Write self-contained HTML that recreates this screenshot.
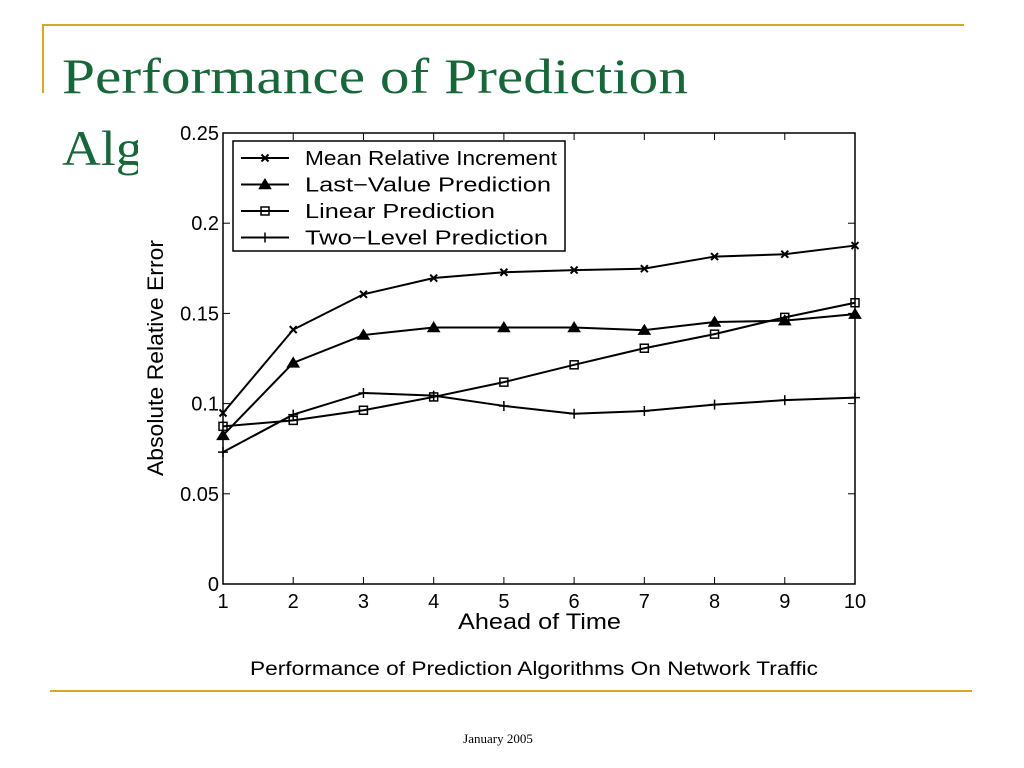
<!DOCTYPE html>
<html><head><meta charset="utf-8"><style>
body{margin:0;background:#fff;}
svg{display:block;}
</style></head><body>
<svg width="1024" height="768" xmlns="http://www.w3.org/2000/svg">
<line x1="42" y1="25" x2="964" y2="25" stroke="#d4a82a" stroke-width="2"/>
<line x1="43" y1="25" x2="43" y2="93" stroke="#d4a82a" stroke-width="2"/>
<line x1="50" y1="691" x2="972" y2="691" stroke="#d4a82a" stroke-width="2"/>
<text x="62" y="93" font-family="Liberation Serif, serif" font-size="50" fill="#17673a" textLength="626" lengthAdjust="spacingAndGlyphs">Performance of Prediction</text>
<text x="62" y="165" font-family="Liberation Serif, serif" font-size="50" fill="#17673a" textLength="245" lengthAdjust="spacingAndGlyphs">Algorithms</text>
<rect x="138" y="118" width="742" height="520" fill="#fff"/>
<g id="chart"></g>
<text x="250" y="675" font-family="Liberation Sans, sans-serif" font-size="19" fill="#000" textLength="568" lengthAdjust="spacingAndGlyphs">Performance of Prediction Algorithms On Network Traffic</text>
<text x="498" y="743" text-anchor="middle" font-family="Liberation Serif, serif" font-size="13" fill="#000">January 2005</text>
</svg>
<script>
const xCats=[1,2,3,4,5,6,7,8,9,10];
const yTicks=[0,0.05,0.1,0.15,0.2,0.25];
const yTickLabels=["0","0.05","0.1","0.15","0.2","0.25"];
const seriesNames=["Mean Relative Increment","Last\u2212Value Prediction","Linear Prediction","Two\u2212Level Prediction"];
const mri=[0.0948,0.141,0.1606,0.1696,0.1728,0.174,0.1748,0.1815,0.1828,0.1876];
const lvp=[0.0824,0.1226,0.138,0.1422,0.1422,0.1422,0.1407,0.1452,0.146,0.1496];
const lin=[0.0874,0.0907,0.0963,0.1037,0.1119,0.1215,0.1307,0.1385,0.1478,0.1559];
const two=[0.0731,0.0939,0.1059,0.1044,0.0987,0.0944,0.0959,0.0994,0.1019,0.1033];
const NS="http://www.w3.org/2000/svg";
const L=223,R=855,T=133,B=584;
const xs=v=>L+(v-1)/9*(R-L);
const ys=v=>B-v/0.25*(B-T);
const g=document.getElementById('chart');
function mk(t,a,txt){const e=document.createElementNS(NS,t);for(const k in a)e.setAttribute(k,a[k]);if(txt!=null)e.textContent=txt;g.appendChild(e);return e;}
let e=mk('rect',{x:L,y:T,width:R-L,height:B-T,fill:'none',stroke:'#000','stroke-width':1.5});


xCats.forEach(c=>{
 const x=xs(c);
 let t=mk('line',{x1:x,y1:B,x2:x,y2:B-7,stroke:'#000','stroke-width':1});
 
 
 let t2=mk('line',{x1:x,y1:T,x2:x,y2:T+7,stroke:'#000','stroke-width':1});
 
 
 let l=mk('text',{x:x,y:B+24,'text-anchor':'middle','font-family':'Liberation Sans, sans-serif','font-size':20},String(c));
 
 
});
yTicks.forEach((v,i)=>{
 const y=ys(v);
 let t=mk('line',{x1:L,y1:y,x2:L+7,y2:y,stroke:'#000','stroke-width':1});
 
 
 let t2=mk('line',{x1:R,y1:y,x2:R-7,y2:y,stroke:'#000','stroke-width':1});
 
 
 let l=mk('text',{x:L-4,y:y+7,'text-anchor':'end','font-family':'Liberation Sans, sans-serif','font-size':20},yTickLabels[i]);
 
 
});
let xt=mk('text',{x:458,y:629,'font-family':'Liberation Sans, sans-serif','font-size':22,textLength:163,lengthAdjust:'spacingAndGlyphs'},'Ahead of Time');


let yt=mk('text',{x:0,y:0,transform:'translate(163,358) rotate(-90)','text-anchor':'middle','font-family':'Liberation Sans, sans-serif','font-size':22,textLength:236,lengthAdjust:'spacingAndGlyphs'},'Absolute Relative Error');


function marker(type,x,y){
 let m;
 if(type==='x')m=mk('path',{d:`M${x-3.5},${y-3.5}L${x+3.5},${y+3.5}M${x-3.5},${y+3.5}L${x+3.5},${y-3.5}`,stroke:'#000','stroke-width':2,fill:'none'});
 else if(type==='tri')m=mk('path',{d:`M${x},${y-5}L${x+5.5},${y+4}L${x-5.5},${y+4}Z`,stroke:'#000','stroke-width':1.5,fill:'#000'});
 else if(type==='sq')m=mk('rect',{x:x-4,y:y-4,width:8,height:8,stroke:'#000','stroke-width':1.5,fill:'none'});
 else m=mk('path',{d:`M${x-5},${y}L${x+5},${y}M${x},${y-5}L${x},${y+5}`,stroke:'#000','stroke-width':1.5});
 return m;
}
const series=[[mri,'x','series-mean-relative-increment'],[lvp,'tri','series-last-value'],[lin,'sq','series-linear'],[two,'plus','series-two-level']];
series.forEach(([vals,mt,name])=>{
 let p=mk('polyline',{points:vals.map((v,i)=>xs(xCats[i])+','+ys(v)).join(' '),fill:'none',stroke:'#000','stroke-width':2});
 
 
 vals.forEach((v,i)=>{let m=marker(mt,xs(xCats[i]),ys(v));
  
  });
});
let lb=mk('rect',{x:233,y:141,width:332,height:110,fill:'#fff',stroke:'#000','stroke-width':1.5});


const mts=['x','tri','sq','plus'];
const legLens=[252,246,190,243];
seriesNames.forEach((n,i)=>{
 const y=158+i*26.5;
 let ln=mk('line',{x1:241,y1:y,x2:289,y2:y,stroke:'#000','stroke-width':2});
 
 
 let m=marker(mts[i],265,y);
 
 
 let t=mk('text',{x:305,y:y+7,'font-family':'Liberation Sans, sans-serif','font-size':20,textLength:legLens[i],lengthAdjust:'spacingAndGlyphs'},n);
 
 
});
</script>
</body></html>
